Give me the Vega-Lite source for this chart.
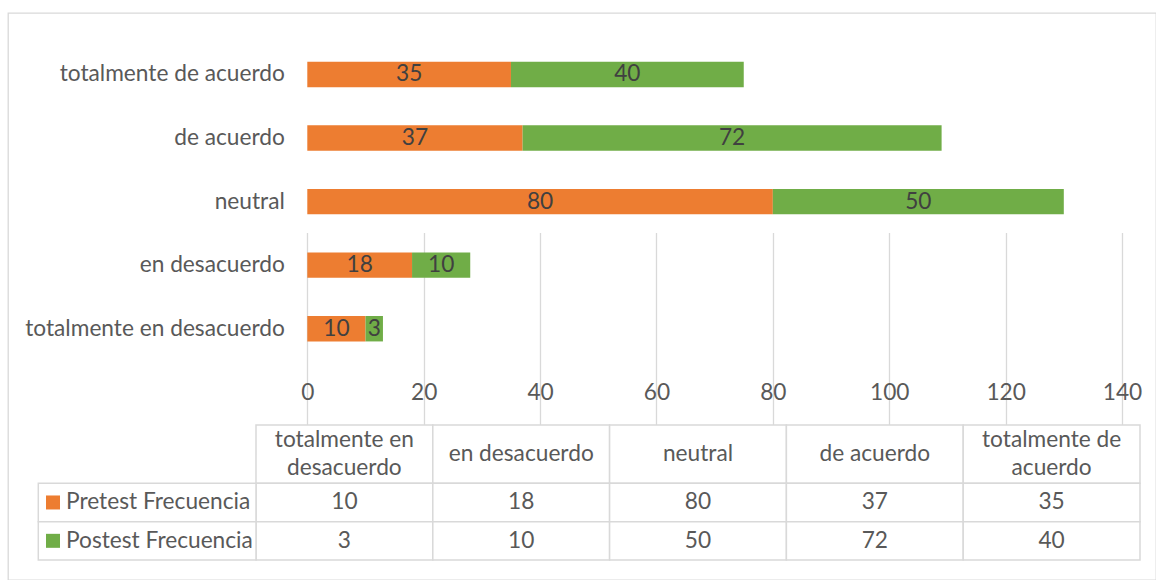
{
  "$schema": "https://vega.github.io/schema/vega-lite/v6.json",
  "width": 1148,
  "height": 567,
  "autosize": {"type": "none"},
  "padding": {"left": 8, "top": 13, "right": 0, "bottom": 0},
  "background": "white",
  "config": {
    "view": {"stroke": "#d9d9d9", "strokeWidth": 1.3},
    "font": "Lato",
    "text": {"font": "Lato"}
  },
  "datasets": {
    "frecuencias": [
      {"categoria": "totalmente en desacuerdo", "serie": "Pretest Frecuencia", "valor": 10, "encabezado": "totalmente en\ndesacuerdo"},
      {"categoria": "totalmente en desacuerdo", "serie": "Postest Frecuencia", "valor": 3, "encabezado": "totalmente en\ndesacuerdo"},
      {"categoria": "en desacuerdo", "serie": "Pretest Frecuencia", "valor": 18, "encabezado": "en desacuerdo"},
      {"categoria": "en desacuerdo", "serie": "Postest Frecuencia", "valor": 10, "encabezado": "en desacuerdo"},
      {"categoria": "neutral", "serie": "Pretest Frecuencia", "valor": 80, "encabezado": "neutral"},
      {"categoria": "neutral", "serie": "Postest Frecuencia", "valor": 50, "encabezado": "neutral"},
      {"categoria": "de acuerdo", "serie": "Pretest Frecuencia", "valor": 37, "encabezado": "de acuerdo"},
      {"categoria": "de acuerdo", "serie": "Postest Frecuencia", "valor": 72, "encabezado": "de acuerdo"},
      {"categoria": "totalmente de acuerdo", "serie": "Pretest Frecuencia", "valor": 35, "encabezado": "totalmente de\nacuerdo"},
      {"categoria": "totalmente de acuerdo", "serie": "Postest Frecuencia", "valor": 40, "encabezado": "totalmente de\nacuerdo"}
    ]
  },
  "data": {"name": "frecuencias"},
  "layer": [
    {
      "layer": [
        {
          "mark": {"type": "bar"},
          "encoding": {
            "y": {
              "field": "categoria", "type": "nominal",
              "scale": {"domain": ["totalmente de acuerdo", "de acuerdo", "neutral", "en desacuerdo", "totalmente en desacuerdo"], "range": [29.7, 347.5], "paddingInner": 0.6, "paddingOuter": 0.3},
              "axis": {"title": null, "domain": false, "ticks": false, "tickSize": 0, "labelPadding": 23, "offset": -299.3, "labelFont": "Lato", "labelFontSize": 22.7, "labelColor": "#595959", "grid": false, "labelLimit": 400}
            },
            "x": {
              "field": "valor", "type": "quantitative", "stack": "zero",
              "scale": {"domain": [0, 140], "range": [299.3, 1114], "nice": false, "zero": true},
              "axis": {"title": null, "values": [0, 20, 40, 60, 80, 100, 120, 140], "grid": true, "gridColor": "#d9d9d9", "gridWidth": 1.3, "domain": false, "ticks": false, "tickSize": 0, "labelPadding": 21, "offset": -219.5, "labelFont": "Lato", "labelFontSize": 22.7, "labelColor": "#595959", "labelFlush": false}
            },
            "color": {
              "field": "serie", "type": "nominal",
              "scale": {"domain": ["Pretest Frecuencia", "Postest Frecuencia"], "range": ["#ED7D31", "#70AD47"]},
              "legend": null
            },
            "order": {"field": "serie", "sort": "descending"}
          }
        },
        {
          "mark": {"type": "text", "fontSize": 22.7, "color": "#404040", "baseline": "middle", "align": "center"},
          "encoding": {
            "y": {"field": "categoria", "type": "nominal"},
            "x": {"field": "valor", "type": "quantitative", "stack": "zero", "bandPosition": 0.5},
            "detail": {"field": "serie"},
            "order": {"field": "serie", "sort": "descending"},
            "text": {"field": "valor", "type": "quantitative"}
          }
        }
      ]
    },
    {
      "transform": [{"filter": "datum.serie === 'Pretest Frecuencia'"}],
      "mark": {"type": "rect", "fill": "white", "stroke": "#d9d9d9", "strokeWidth": 1.5},
      "encoding": {
        "x": {"field": "categoria", "type": "nominal", "scale": {"domain": ["totalmente en desacuerdo", "en desacuerdo", "neutral", "de acuerdo", "totalmente de acuerdo"], "range": [248, 1132], "paddingInner": 0, "paddingOuter": 0}, "axis": null},
        "y": {"datum": "cabecera", "type": "nominal", "scale": {"domain": ["cabecera"], "range": [412, 470.3], "paddingInner": 0, "paddingOuter": 0}, "axis": null}
      }
    },
    {
      "transform": [{"filter": "datum.serie === 'Pretest Frecuencia' && !test(/\\n/, datum.encabezado)"}],
      "mark": {"type": "text", "fontSize": 22.7, "color": "#595959", "baseline": "middle", "align": "center"},
      "encoding": {
        "x": {"field": "categoria", "type": "nominal", "scale": {"domain": ["totalmente en desacuerdo", "en desacuerdo", "neutral", "de acuerdo", "totalmente de acuerdo"], "range": [248, 1132], "paddingInner": 0, "paddingOuter": 0}, "axis": null},
        "y": {"datum": "cabecera", "type": "nominal", "scale": {"domain": ["cabecera"], "range": [412, 470.3], "paddingInner": 0, "paddingOuter": 0}, "axis": null},
        "text": {"field": "encabezado"}
      }
    },
    {
      "transform": [{"filter": "datum.serie === 'Pretest Frecuencia' && test(/\\n/, datum.encabezado)"}],
      "mark": {"type": "text", "fontSize": 22.7, "color": "#595959", "baseline": "middle", "align": "center", "lineBreak": "\n", "lineHeight": 28, "dy": -14},
      "encoding": {
        "x": {"field": "categoria", "type": "nominal", "scale": {"domain": ["totalmente en desacuerdo", "en desacuerdo", "neutral", "de acuerdo", "totalmente de acuerdo"], "range": [248, 1132], "paddingInner": 0, "paddingOuter": 0}, "axis": null},
        "y": {"datum": "cabecera", "type": "nominal", "scale": {"domain": ["cabecera"], "range": [412, 470.3], "paddingInner": 0, "paddingOuter": 0}, "axis": null},
        "text": {"field": "encabezado"}
      }
    },
    {
      "mark": {"type": "rect", "fill": "white", "stroke": "#d9d9d9", "strokeWidth": 1.5},
      "encoding": {
        "x": {"field": "categoria", "type": "nominal", "scale": {"domain": ["totalmente en desacuerdo", "en desacuerdo", "neutral", "de acuerdo", "totalmente de acuerdo"], "range": [248, 1132], "paddingInner": 0, "paddingOuter": 0}, "axis": null},
        "y": {"field": "serie", "type": "nominal", "scale": {"domain": ["Pretest Frecuencia", "Postest Frecuencia"], "range": [470.3, 547], "paddingInner": 0, "paddingOuter": 0}, "axis": null}
      }
    },
    {
      "mark": {"type": "text", "fontSize": 22.7, "color": "#595959", "baseline": "middle", "align": "center"},
      "encoding": {
        "x": {"field": "categoria", "type": "nominal", "scale": {"domain": ["totalmente en desacuerdo", "en desacuerdo", "neutral", "de acuerdo", "totalmente de acuerdo"], "range": [248, 1132], "paddingInner": 0, "paddingOuter": 0}, "axis": null},
        "y": {"field": "serie", "type": "nominal", "scale": {"domain": ["Pretest Frecuencia", "Postest Frecuencia"], "range": [470.3, 547], "paddingInner": 0, "paddingOuter": 0}, "axis": null},
        "text": {"field": "valor", "type": "quantitative"}
      }
    },
    {
      "transform": [{"filter": "datum.categoria === 'neutral'"}],
      "mark": {"type": "rect", "fill": "white", "stroke": "#d9d9d9", "strokeWidth": 1.5},
      "encoding": {
        "x": {"datum": "leyenda", "type": "nominal", "scale": {"domain": ["leyenda"], "range": [30.3, 248], "paddingInner": 0, "paddingOuter": 0}, "axis": null},
        "y": {"field": "serie", "type": "nominal", "scale": {"domain": ["Pretest Frecuencia", "Postest Frecuencia"], "range": [470.3, 547], "paddingInner": 0, "paddingOuter": 0}, "axis": null}
      }
    },
    {
      "transform": [{"filter": "datum.categoria === 'neutral'"}],
      "mark": {"type": "point", "shape": "square", "filled": true, "size": 196, "opacity": 1, "xOffset": -94.15},
      "encoding": {
        "x": {"datum": "leyenda", "type": "nominal", "scale": {"domain": ["leyenda"], "range": [30.3, 248], "paddingInner": 0, "paddingOuter": 0}, "axis": null},
        "y": {"field": "serie", "type": "nominal", "scale": {"domain": ["Pretest Frecuencia", "Postest Frecuencia"], "range": [470.3, 547], "paddingInner": 0, "paddingOuter": 0}, "axis": null},
        "color": {"field": "serie", "type": "nominal", "legend": null}
      }
    },
    {
      "transform": [{"filter": "datum.categoria === 'neutral'"}],
      "mark": {"type": "text", "fontSize": 22.7, "color": "#595959", "baseline": "middle", "align": "left", "xOffset": -81.15},
      "encoding": {
        "x": {"datum": "leyenda", "type": "nominal", "scale": {"domain": ["leyenda"], "range": [30.3, 248], "paddingInner": 0, "paddingOuter": 0}, "axis": null},
        "y": {"field": "serie", "type": "nominal", "scale": {"domain": ["Pretest Frecuencia", "Postest Frecuencia"], "range": [470.3, 547], "paddingInner": 0, "paddingOuter": 0}, "axis": null},
        "text": {"field": "serie"}
      }
    }
  ],
  "resolve": {"scale": {"x": "independent", "y": "independent"}}
}
